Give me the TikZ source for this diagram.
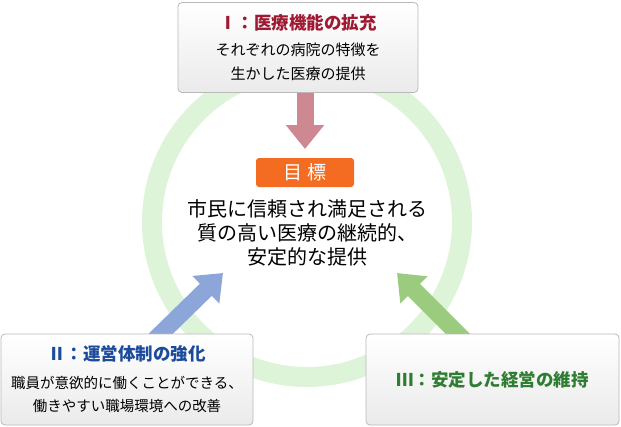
\documentclass[tikz,border=0pt]{standalone}
\usepackage{fontspec}
\setmainfont{Noto Sans CJK JP}
\usetikzlibrary{arrows.meta, backgrounds}
\definecolor{ringgreen}{RGB}{221,244,216}
\definecolor{goalorange}{RGB}{243,108,33}
\definecolor{medred}{RGB}{158,26,51}
\definecolor{mgmtblue}{RGB}{28,75,156}
\definecolor{fingreen}{RGB}{47,125,50}
\definecolor{arrowred}{RGB}{206,136,146}
\definecolor{arrowblue}{RGB}{140,166,217}
\definecolor{arrowgreen}{RGB}{155,203,126}
\definecolor{boxedge}{RGB}{185,185,185}

\begin{document}
\begin{tikzpicture}[x=1pt, y=-1pt,
    pillar/.style={draw=boxedge, line width=0.8pt, rounded corners=4pt, top color=white, bottom color=black!8, align=center, inner sep=0pt},
    bigarrow/.style={line width=17pt, -{Triangle[length=24pt, width=37pt]}}]
  \useasboundingbox (0,0) rectangle (621,426);
  % Pillars
  \node[pillar, minimum width=240pt, minimum height=90pt, font=\fontsize{15}{23.5}\selectfont] (P1) at (298,47.5)
    {\textcolor{medred}{\fontsize{17.5}{23.5}\selectfont\bfseries Ⅰ：医療機能の拡充}\\[3pt]それぞれの病院の特徴を\\生かした医療の提供};
  \node[pillar, minimum width=252pt, minimum height=91pt, font=\fontsize{14.5}{23}\selectfont] (P2) at (127,379.5)
    {\textcolor{mgmtblue}{\fontsize{17.5}{23}\selectfont\bfseries Ⅱ：運営体制の強化}\\[5pt]職員が意欲的に働くことができる、\\働きやすい職場環境への改善};
  \node[pillar, minimum width=253pt, minimum height=91pt] (P3) at (492.5,379.5)
    {\textcolor{fingreen}{\fontsize{17.5}{23}\selectfont\bfseries Ⅲ：安定した経営の維持}};

  % Goal
  \node[fill=goalorange, rounded corners=3pt, minimum width=98pt, minimum height=29pt, inner sep=0pt, text=white, font=\fontsize{19}{19}\selectfont] (G) at (305,172.5) {目 標};
  \node[align=center, font=\fontsize{20}{24}\selectfont] (T) at (307,232.5) {市民に信頼され満足される\\質の高い医療の継続的、\\安定的な提供};

  \coordinate (tipI) at (305,149);
  \coordinate (tipII) at (223,273);
  \coordinate (tailII) at (140,354);
  \coordinate (tipIII) at (397,273);
  \coordinate (tailIII) at (478,354);

  \begin{pgfonlayer}{background}
    % Ring
    \draw[ringgreen, line width=20pt] (307,222) circle[radius=155pt];
    % Arrows
    \draw[bigarrow, arrowred] (tipI |- P1.south) -- (tipI);
    \draw[bigarrow, arrowblue] (tailII) -- (tipII);
    \draw[bigarrow, arrowgreen] (tailIII) -- (tipIII);
  \end{pgfonlayer}
\end{tikzpicture}
\end{document}
